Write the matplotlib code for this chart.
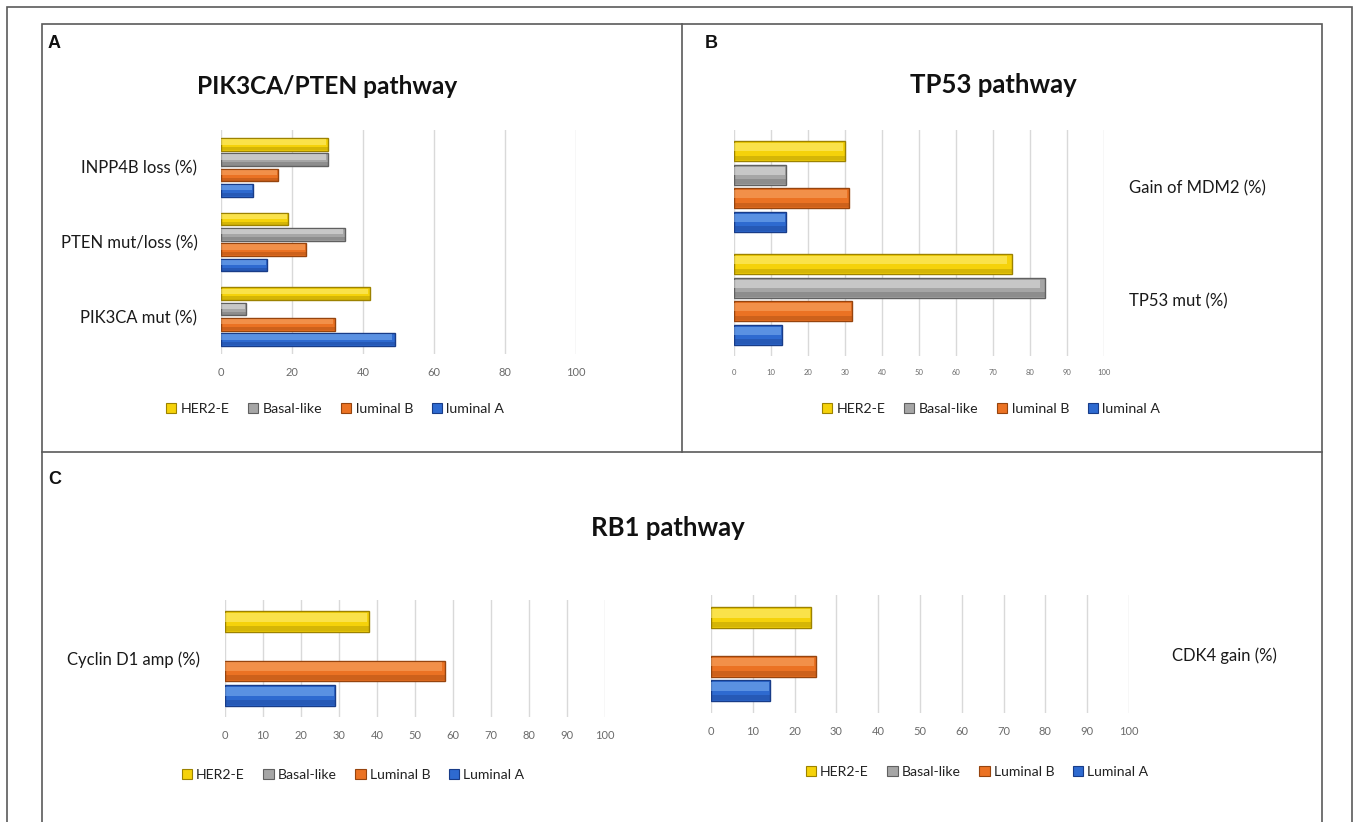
import numpy as np
import matplotlib
matplotlib.use('Agg')
import matplotlib.pyplot as plt
from matplotlib.patches import Patch, Rectangle
from matplotlib.lines import Line2D

# --- datos ---
subtipos = ['HER2-E', 'Basal-like', 'luminal B', 'luminal A']
subtipos_c = ['HER2-E', 'Basal-like', 'Luminal B', 'Luminal A']

a_categorias = ['PIK3CA mut (%)', 'PTEN mut/loss (%)', 'INPP4B loss (%)']
a_her2 = [42, 19, 30]
a_basal = [7, 35, 30]
a_lumb = [32, 24, 16]
a_luma = [49, 13, 9]
a_ticks = [0, 20, 40, 60, 80, 100]

b_categorias = ['TP53 mut (%)', 'Gain of MDM2 (%)']
b_her2 = [75, 30]
b_basal = [84, 14]
b_lumb = [32, 31]
b_luma = [13, 14]

c1_categorias = ['Cyclin D1 amp (%)']
c1_her2 = [38]
c1_basal = [np.nan]
c1_lumb = [58]
c1_luma = [29]

c2_categorias = ['CDK4 gain (%)']
c2_her2 = [24]
c2_basal = [np.nan]
c2_lumb = [25]
c2_luma = [14]

ticks_10 = list(range(0, 101, 10))

# colores (base, claro, oscuro)
colores = [('#F5D20A', '#FFF38A', '#9C8200'),
           ('#A6A6A6', '#E8E8E8', '#606060'),
           ('#EB7223', '#F9AE70', '#96440E'),
           ('#2E6AD0', '#86B9F5', '#183C88')]

W, H = 1357, 822
plt.rcParams['font.family'] = ['Lato', 'DejaVu Sans']
fig = plt.figure(figsize=(W / 100, H / 100), dpi=100)


def caja(x0, y0, x1, y1):
    return [x0 / W, 1 - y1 / H, (x1 - x0) / W, (y1 - y0) / H]


def px(x, y):
    return x / W, 1 - y / H


def barras(ax, series, paso, alto):
    n = len(series[0])
    for k, valores in enumerate(series):
        base, claro, oscuro = colores[k]
        ys = np.arange(n) + (1.5 - k) * paso
        for y, v in zip(ys, valores):
            if np.isnan(v):
                continue
            # efecto bisel: base, brillo arriba, sombra abajo
            ax.barh(y, v, height=alto, color=base, edgecolor=oscuro, linewidth=1.0, zorder=3)
            ax.barh(y + alto * 0.2, v * 0.985, height=alto * 0.42, color=claro, alpha=0.5,
                    linewidth=0, zorder=4)
            ax.barh(y - alto * 0.34, v, height=alto * 0.24, color=oscuro, alpha=0.35,
                    linewidth=0, zorder=4)


def estilo(ax, n, ticks, tick_fs, categorias, cat_fs, derecha=False, pad=12):
    ax.set_xlim(0, 100)
    ax.set_ylim(-0.5, n - 0.5)
    ax.set_xticks(ticks)
    ax.set_xticklabels([str(t) for t in ticks], fontsize=tick_fs, color='#6b6b6b')
    ax.set_yticks(range(n))
    ax.set_yticklabels(categorias, fontsize=cat_fs, color='#1a1a1a')
    if derecha:
        ax.yaxis.tick_right()
    ax.tick_params(axis='both', length=0)
    ax.tick_params(axis='y', pad=pad)
    ax.tick_params(axis='x', pad=9)
    ax.grid(axis='x', color='#d9d9d9', linewidth=1.0, zorder=0)
    ax.set_axisbelow(True)
    for s in ax.spines.values():
        s.set_visible(False)
    ax.patch.set_alpha(0)


def leyenda(etiquetas, cx, cy, fs):
    handles = [Patch(facecolor=c[0], edgecolor=c[2], linewidth=0.8) for c in colores]
    fig.legend(handles, etiquetas, loc='center', bbox_to_anchor=px(cx, cy), ncol=4,
               frameon=False, fontsize=fs, handlelength=0.75, handleheight=0.75,
               handletextpad=0.3, columnspacing=1.3, labelcolor='#222222')


# --- Panel A ---
axA = fig.add_axes(caja(221, 130, 576, 354))
barras(axA, [a_her2, a_basal, a_lumb, a_luma], 0.205, 0.17)
estilo(axA, 3, a_ticks, 8, a_categorias, 12, pad=17)
leyenda(subtipos, 335, 409, 10.2)

# --- Panel B ---
axB = fig.add_axes(caja(734, 130, 1104, 356))
barras(axB, [b_her2, b_basal, b_lumb, b_luma], 0.208, 0.177)
estilo(axB, 2, ticks_10, 5.5, b_categorias, 12, derecha=True, pad=18)
leyenda(subtipos, 991, 409, 10.2)

# --- Panel C ---
axC1 = fig.add_axes(caja(225, 600, 605, 717))
barras(axC1, [c1_her2, c1_basal, c1_lumb, c1_luma], 0.211, 0.175)
estilo(axC1, 1, ticks_10, 8, c1_categorias, 12, pad=18)
leyenda(subtipos_c, 353, 775, 10.1)

axC2 = fig.add_axes(caja(711, 595, 1129, 713))
barras(axC2, [c2_her2, c2_basal, c2_lumb, c2_luma], 0.207, 0.178)
estilo(axC2, 1, ticks_10, 8, c2_categorias, 12, derecha=True, pad=31)
leyenda(subtipos_c, 977, 772, 10.1)

# --- titulos y letras ---
fig.text(*px(327, 87), 'PIK3CA/PTEN pathway', ha='center', va='center',
         fontsize=17.6, fontweight='bold', color='#111111')
fig.text(*px(993, 85), 'TP53 pathway', ha='center', va='center',
         fontsize=18.5, fontweight='bold', color='#111111')
fig.text(*px(668, 528), 'RB1 pathway', ha='center', va='center',
         fontsize=18.5, fontweight='bold', color='#111111')
for letra, (x, y) in zip('ABC', [(48, 44), (705, 44), (48, 480)]):
    fig.text(*px(x, y), letra, ha='left', va='center', fontsize=13,
             fontweight='bold', family='Liberation Sans', color='#111111')

# --- marcos ---
gris = '#5a5a5a'
fig.add_artist(Rectangle(px(7, 830), (1352 - 7) / W, (830 - 7) / H, fill=False,
                         edgecolor=gris, linewidth=1.2, transform=fig.transFigure))
fig.add_artist(Rectangle(px(42, 830), (1322 - 42) / W, (830 - 24) / H, fill=False,
                         edgecolor=gris, linewidth=1.2, transform=fig.transFigure))
fig.add_artist(Line2D([682 / W, 682 / W], [1 - 24 / H, 1 - 452 / H], color=gris,
                      linewidth=1.2, transform=fig.transFigure))
fig.add_artist(Line2D([42 / W, 1322 / W], [1 - 452 / H, 1 - 452 / H], color=gris,
                      linewidth=1.2, transform=fig.transFigure))

fig.savefig('out.png', dpi=100)
